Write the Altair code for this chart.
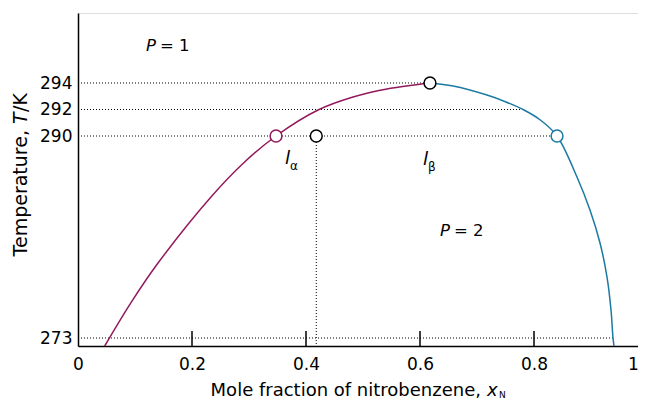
import altair as alt
import pandas as pd

# ---- data ----
# left (alpha, water-rich) branch of the coexistence curve
left_x = [0.0468, 0.093, 0.1404, 0.2333, 0.2895, 0.3474, 0.4211, 0.4825, 0.5421, 0.6175]
left_T = [272.33, 275.98, 279.31, 284.87, 287.69, 290.0, 291.96, 292.94, 293.55, 294.0]
# right (beta, nitrobenzene-rich) branch
right_x = [0.6175, 0.6579, 0.7175, 0.7509, 0.7825, 0.8123, 0.8404, 0.8754, 0.8982, 0.9158, 0.9281, 0.9351, 0.9386, 0.9404]
right_T = [294.0, 293.77, 293.09, 292.57, 291.96, 291.17, 290.0, 286.55, 283.77, 281.0, 278.13, 275.36, 273.0, 272.33]

# dotted guide lines: temperature level and where each stops
guide_T = [294, 292, 290, 273]
guide_x_end = [0.6175, 0.7825, 0.8404, 0.9386]
# vertical dotted line at the overall composition
vert_x = [0.418]
vert_T_top = [290]
vert_T_bottom = [272.33]

# marked points
point_x = [0.3474, 0.418, 0.6175, 0.8404]
point_T = [290, 290, 294, 290]
point_kind = ["alpha", "overall", "critical", "beta"]

# axis ticks
x_ticks = [0, 0.2, 0.4, 0.6, 0.8, 1]
x_inner_ticks = [0.2, 0.4, 0.6, 0.8]
y_ticks = [273, 290, 292, 294]

PURPLE = "#93195d"
BLUE = "#1b7aa2"
FONT = "DejaVu Sans"

left_df = pd.DataFrame({"x": left_x, "T": left_T, "i": range(len(left_x))})
right_df = pd.DataFrame({"x": right_x, "T": right_T, "i": range(len(right_x))})
guide_df = pd.DataFrame({"T": guide_T, "x_end": guide_x_end, "x0": [0] * len(guide_T)})
vert_df = pd.DataFrame({"x": vert_x, "T1": vert_T_top, "T0": vert_T_bottom})
pts_df = pd.DataFrame({"x": point_x, "T": point_T, "kind": point_kind})
tick_df = pd.DataFrame({"x": x_inner_ticks})

W = 560   # visible plot width (the page is 630 px wide inside its margins)
H = 333
xscale = alt.Scale(domain=[0, 1], range=[0, 570], nice=False, zero=False)
yscale = alt.Scale(domain=[272.33, 273, 290, 294, 299.28], range=[H, 325, 123, 70, 0],
                   nice=False, zero=False)

xaxis = alt.Axis(values=x_ticks, format="~g", title=None, ticks=False, tickSize=0, grid=False,
                 labelFont=FONT, labelFontSize=17, labelColor="black", labelPadding=10,
                 labelOffset={"condition": {"test": "datum.value == 1", "value": -15}, "value": 0},
                 domainColor="black", domainWidth=1.5, labelFlush=False)
yaxis = alt.Axis(values=y_ticks, title=None, ticks=False, tickSize=0, grid=False,
                 labelFont=FONT, labelFontSize=17, labelColor="black", labelPadding=6,
                 domainColor="black", domainWidth=1.5)

X = alt.X("x:Q", scale=xscale, axis=xaxis)
Y = alt.Y("T:Q", scale=yscale, axis=yaxis)

guides = alt.Chart(guide_df).mark_rule(color="black", strokeWidth=1, strokeDash=[1, 2]).encode(
    x=alt.X("x0:Q", scale=xscale, axis=xaxis), x2="x_end:Q", y=Y)
vert = alt.Chart(vert_df).mark_rule(color="black", strokeWidth=1, strokeDash=[1, 2]).encode(
    x=X, y=alt.Y("T1:Q", scale=yscale, axis=yaxis), y2="T0:Q")
ticks = alt.Chart(tick_df).mark_rule(color="black", strokeWidth=1.5).encode(
    x=X, y=alt.value(H - 15), y2=alt.value(H))

left_line = alt.Chart(left_df).mark_line(color=PURPLE, strokeWidth=1.5, interpolate="catmull-rom").encode(
    x=X, y=Y, order=alt.Order("i:Q"))
right_line = alt.Chart(right_df).mark_line(color=BLUE, strokeWidth=1.5, interpolate="catmull-rom").encode(
    x=X, y=Y, order=alt.Order("i:Q"))

points = alt.Chart(pts_df).mark_point(shape="circle", filled=False, fill="white", fillOpacity=1,
                                      size=140, strokeWidth=1.5, opacity=1).encode(
    x=X, y=Y,
    stroke=alt.Stroke("kind:N", scale=alt.Scale(domain=["alpha", "overall", "critical", "beta"],
                                                range=[PURPLE, "black", "black", BLUE]), legend=None))

one = alt.Data(values=[{}])


def txt(text, x, y, size=17, italic=False, align="left", angle=0):
    kw = dict(text=text, font=FONT, fontSize=size, color="black", align=align,
              baseline="alphabetic", fontStyle="italic" if italic else "normal")
    if angle:
        kw["angle"] = angle
    return alt.Chart(one).mark_text(**kw).encode(x=alt.value(x), y=alt.value(y))


texts = [
    # P = 1
    txt("P", 68, 38, 16.5, italic=True),
    txt("= 1", 82, 38, 16.5),
    # P = 2
    txt("P", 362, 223, 16.5, italic=True),
    txt("= 2", 376, 223, 16.5),
    # l alpha
    txt("l", 207, 151, 18.5, italic=True),
    txt("α", 212, 157, 12),
    # l beta
    txt("l", 345, 152, 18.5, italic=True),
    txt("β", 350, 158, 12),
    # x-axis title
    txt("Mole fraction of nitrobenzene,", 403, 383, 18, align="right"),
    txt("x", 409, 383, 18, italic=True),
    txt("N", 421, 385, 9),
    # y-axis title (rotated)
    txt("Temperature,", -51, 117, 19, align="right", angle=270),
    txt("T", -51, 111, 19, italic=True, angle=270),
    txt("/K", -51, 99, 19, angle=270),
]

chart = alt.layer(guides, vert, ticks, left_line, right_line, points, *texts).properties(
    width=W, height=H,
    autosize=alt.AutoSizeParams(type="none"),
    padding={"left": 70, "top": 5, "right": 0, "bottom": 55},
).configure_view(stroke=None).configure(background="white")

chart.save("out.html", embed_options={"renderer": "svg", "actions": False})
